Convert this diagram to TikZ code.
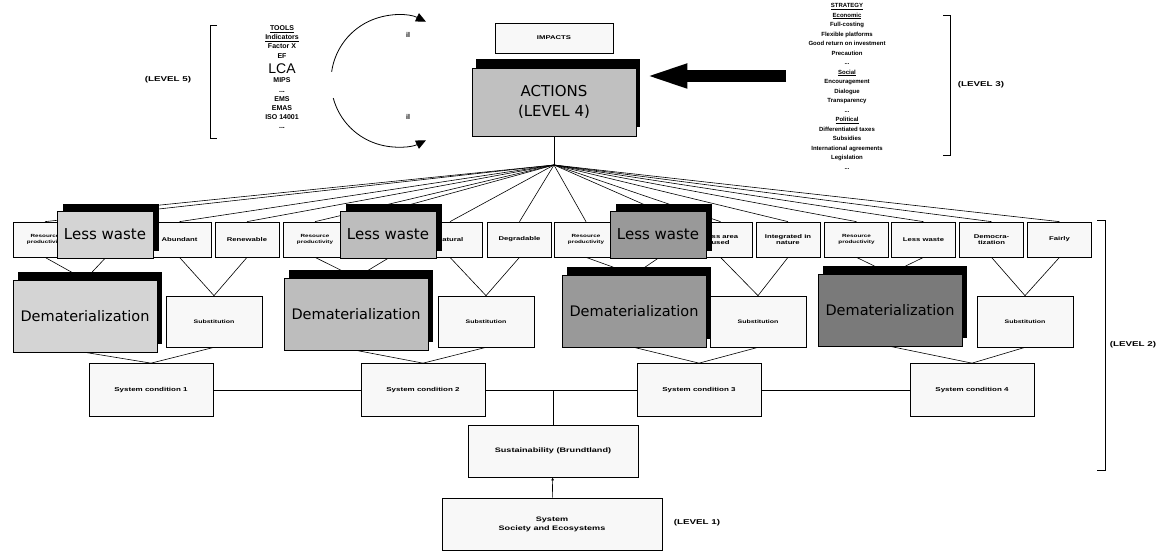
\documentclass[tikz,border=0pt]{standalone}
\usepackage{fontspec}
\setmainfont{DejaVu Sans}
\newfontfamily\boxfont[FakeStretch=1.4]{Liberation Sans}
\newfontfamily\listfont{Liberation Sans}
\usetikzlibrary{arrows.meta,shadows,backgrounds}
\definecolor{paper}{HTML}{F8F8F8}
\definecolor{actgrey}{HTML}{C0C0C0}
\definecolor{greyA}{HTML}{D4D4D4}
\definecolor{greyB}{HTML}{BDBDBD}
\definecolor{greyC}{HTML}{999999}
\definecolor{greyD}{HTML}{7A7A7A}

\begin{document}
\begin{tikzpicture}[
  x=1pt, y=-1pt,
  crit/.style={draw, line width=0.7pt, fill=paper, minimum width=64pt, minimum height=35pt, inner sep=1pt, align=center, font=\boxfont\bfseries\fontsize{5.5}{6.5}\selectfont},
  prod/.style={crit, font=\boxfont\bfseries\fontsize{4.5}{6}\selectfont},
  less/.style={draw, line width=0.7pt, minimum width=96pt, minimum height=47pt, inner sep=0pt, font=\fontsize{15}{18}\selectfont, drop shadow={shadow xshift=6pt, shadow yshift=7pt, fill=black, opacity=1}},
  demat/.style={draw, line width=0.7pt, minimum width=144pt, minimum height=72pt, inner sep=0pt, font=\fontsize{14.5}{17}\selectfont, drop shadow={shadow xshift=5pt, shadow yshift=8pt, fill=black, opacity=1}},
  subst/.style={crit, minimum width=96pt, minimum height=51pt, font=\boxfont\bfseries\fontsize{5}{6}\selectfont},
  cond/.style={crit, minimum width=124pt, minimum height=53pt, font=\boxfont\bfseries\fontsize{5.7}{7}\selectfont},
  lvl/.style={font=\boxfont\bfseries\fontsize{7}{8}\selectfont},
  link/.style={line width=0.6pt},
  brace/.style={line width=0.8pt},
  turn/.style={line width=0.8pt, -{Triangle[length=10pt, width=9pt]}}
]
\useasboundingbox (0, 0) rectangle (1157, 553);

% Level 5: tools
\node[lvl] (lv5) at (168, 80) {(LEVEL 5)};
\draw[brace] (217, 25) -- (210, 25) -- (210, 138) -- (217, 138);
\node[anchor=north, align=center, font=\listfont\bfseries\fontsize{7}{9.2}\selectfont] (tools) at (282, 22)
  {\underline{TOOLS}\\ \underline{Indicators}\\ Factor X\\ EF\\[5pt] {\mdseries\fontsize{14}{14}\selectfont LCA}\\[0pt] MIPS\\ ...\\ EMS\\ EMAS\\ ISO 14001\\ ...};
\coordinate (cyc) at (397, 81);
\draw[turn] (cyc) ++(188:66) arc[start angle=188, end angle=296, radius=66];
\draw[turn] (cyc) ++(165:66) arc[start angle=165, end angle=64, radius=66];
\node[font=\listfont\bfseries\fontsize{7}{8}\selectfont] (upq) at (408, 35) {il};
\node[font=\listfont\bfseries\fontsize{7}{8}\selectfont] (downq) at (408, 117) {il};

% Level 4: actions
\node[crit, minimum width=118pt, minimum height=30pt, font=\boxfont\bfseries\fontsize{5.5}{7}\selectfont] (imp) at (554, 38) {IMPACTS};
\node[draw, line width=0.7pt, fill=actgrey, minimum width=164pt, minimum height=68pt, align=center, font=\fontsize{15}{20}\selectfont, drop shadow={shadow xshift=4pt, shadow yshift=9pt, fill=black, opacity=1}] (act) at (554, 102) {ACTIONS\\(LEVEL 4)};

% Level 3: strategy
\node[anchor=north, align=center, font=\listfont\bfseries\fontsize{6}{9.5}\selectfont] (strat) at (847, 0)
  {\underline{STRATEGY}\\ \underline{Economic}\\ Full-costing\\ Flexible platforms\\ Good return on investment\\ Precaution\\ ...\\
   \underline{Social}\\ Encouragement\\ Dialogue\\ Transparency\\ ...\\
   \underline{Political}\\ Differentiated taxes\\ Subsidies\\ International agreements\\ Legislation\\ ...};
\draw[brace] (943, 15) -- (950, 15) -- (950, 155) -- (943, 155);
\node[lvl] (lv3) at (981, 85) {(LEVEL 3)};
\coordinate (push) at (786, 76);
\draw[line width=12pt, -{Triangle[length=45pt, width=21pt]}] (push) -- ([xshift=6pt]push -| act.east);

% Level 2: criteria
\coordinate (fan) at (554, 165);
\node[prod] (prodA) at (45, 239.5) {Resource\\productivity};
\node[crit] (abund) at (179.5, 239.5) {Abundant};
\node[crit] (renew) at (247, 239.5) {Renewable};
\node[prod] (prodB) at (315, 239.5) {Resource\\productivity};
\node[crit] (natur) at (450, 239.5) {Natural};
\node[crit] (degrad) at (519.5, 239.5) {Degradable};
\node[prod] (prodC) at (586, 239.5) {Resource\\productivity};
\node[crit] (area) at (720.5, 239.5) {Less area\\used};
\node[crit] (integ) at (788, 239.5) {Integrated in\\nature};
\node[prod] (prodD) at (856.5, 239.5) {Resource\\productivity};
\node[crit] (wasteD) at (923.5, 239.5) {Less waste};
\node[crit] (democ) at (991.5, 239.5) {Democra-\\tization};
\node[crit] (fair) at (1059.5, 239.5) {Fairly};

\node[less, fill=greyA] (lessA) at (105, 234.5) {Less waste};
\node[less, fill=greyB] (lessB) at (388, 234.5) {Less waste};
\node[less, fill=greyC] (lessC) at (658, 234.5) {Less waste};

% Dematerialization and substitution
\node[demat, fill=greyA] (demA) at (85, 316) {Dematerialization};
\node[subst] (subA) at (214, 321.5) {Substitution};
\node[demat, fill=greyB] (demB) at (356, 314) {Dematerialization};
\node[subst] (subB) at (486, 321.5) {Substitution};
\node[demat, fill=greyC] (demC) at (634, 311) {Dematerialization};
\node[subst] (subC) at (758, 321.5) {Substitution};
\node[demat, fill=greyD] (demD) at (890, 310) {Dematerialization};
\node[subst] (subD) at (1025, 321.5) {Substitution};

% System conditions
\node[cond] (scA) at (151, 390) {System condition 1};
\node[cond] (scB) at (423, 390) {System condition 2};
\node[cond] (scC) at (699, 390) {System condition 3};
\node[cond] (scD) at (972, 390) {System condition 4};
\draw[brace] (1097, 220) -- (1105, 220) -- (1105, 470) -- (1097, 470);
\node[lvl] (lv2) at (1133, 345) {(LEVEL 2)};

% Level 1: system
\coordinate (hub) at (553, 390);
\node[cond, minimum width=170pt, minimum height=52pt, font=\boxfont\bfseries\fontsize{6.5}{8}\selectfont] (sust) at (553, 451) {Sustainability (Brundtland)};
\node[cond, minimum width=220pt, minimum height=52pt, font=\boxfont\bfseries\fontsize{6.5}{9}\selectfont] (sys) at (552, 524) {System\\Society and Ecosystems};
\node[lvl] (lv1) at (697, 523) {(LEVEL 1)};

% Connectors, behind the boxes
\begin{scope}[on background layer]
\draw[link] (act) -- (fan);
\foreach \n in {prodA, lessA, abund, renew, prodB, lessB, natur, degrad, prodC, lessC, area, integ, prodD, wasteD, democ, fair}
  \draw[link] (fan) -- (\n.north);
\draw[link] (prodA.south) -- (demA.north);
\draw[link] (lessA.south) -- (demA.north);
\draw[link] (abund.south) -- (subA.north);
\draw[link] (renew.south) -- (subA.north);
\draw[link] (prodB.south) -- (demB.north);
\draw[link] (lessB.south) -- (demB.north);
\draw[link] (natur.south) -- (subB.north);
\draw[link] (degrad.south) -- (subB.north);
\draw[link] (prodC.south) -- (demC.north);
\draw[link] (lessC.south) -- (demC.north);
\draw[link] (area.south) -- (subC.north);
\draw[link] (integ.south) -- (subC.north);
\draw[link] (prodD.south) -- (demD.north);
\draw[link] (wasteD.south) -- (demD.north);
\draw[link] (democ.south) -- (subD.north);
\draw[link] (fair.south) -- (subD.north);
\draw[link] (demA.south) -- (scA.north);
\draw[link] (subA.south) -- (scA.north);
\draw[link] (demB.south) -- (scB.north);
\draw[link] (subB.south) -- (scB.north);
\draw[link] (demC.south) -- (scC.north);
\draw[link] (subC.south) -- (scC.north);
\draw[link] (demD.south) -- (scD.north);
\draw[link] (subD.south) -- (scD.north);
\draw[link] (scA) -- (scB);
\draw[link] (scB) -- (scC);
\draw[link] (scC) -- (scD);
\draw[link] (hub) -- (sust);
\draw[link, -{Latex[length=3pt, width=3pt]}] (sys) -- (sust);
\end{scope}
\end{tikzpicture}
\end{document}
